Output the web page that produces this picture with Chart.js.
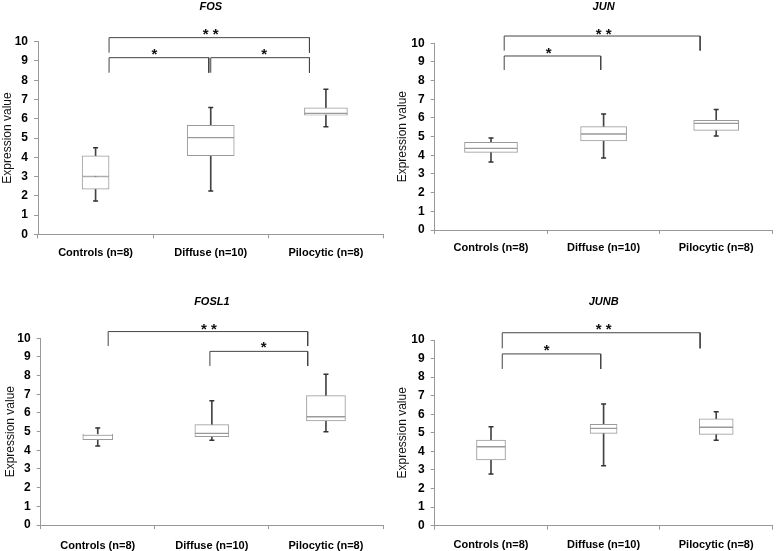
<!DOCTYPE html>
<html>
<head>
<meta charset="utf-8">
<script src="https://cdn.jsdelivr.net/npm/chart.js@4.4.1/dist/chart.umd.min.js"></script>
<style>
  body { margin: 0; background: #fff; }
  #wrap { position: relative; width: 778px; height: 551px; }
  canvas { position: absolute; }
</style>
</head>
<body>
<div id="wrap">
  <canvas id="fosChart" width="389" height="275" style="left:0;top:0"></canvas>
  <canvas id="junChart" width="389" height="275" style="left:389px;top:0"></canvas>
  <canvas id="fosl1Chart" width="389" height="276" style="left:0;top:275px"></canvas>
  <canvas id="junbChart" width="389" height="276" style="left:389px;top:275px"></canvas>
</div>
<script>
const categories = ['Controls (n=8)', 'Diffuse (n=10)', 'Pilocytic (n=8)'];

// FOS
const fosMin = [1.73, 2.25, 5.59];
const fosQ1 = [2.34, 4.08, 6.19];
const fosMedian = [3.0, 5.02, 6.28];
const fosQ3 = [4.07, 5.66, 6.57];
const fosMax = [4.5, 6.59, 7.53];
// brackets: [from, to, bar level, leg end] ; stars: [x, y, text]
const fosBrackets = [[-0.03, 2.0, 10.21, 9.43], [-0.03, 0.98, 9.17, 8.39], [1.0, 2.0, 9.17, 8.39]];
const fosStars = [[1.0, 10.6, '* *'], [0.43, 9.57, '*'], [1.54, 9.57, '*']];

// JUN
const junMin = [3.64, 3.86, 5.04];
const junQ1 = [4.16, 4.77, 5.34];
const junMedian = [4.37, 5.14, 5.71];
const junQ3 = [4.70, 5.54, 5.88];
const junMax = [4.93, 6.21, 6.45];
const junBrackets = [[-0.03, 2.0, 10.39, 9.61], [-0.03, 0.97, 9.32, 8.57]];
const junStars = [[1.0, 10.71, '* *'], [0.43, 9.68, '*']];

// FOSL1
const fosl1Min = [4.23, 4.54, 5.0];
const fosl1Q1 = [4.57, 4.73, 5.57];
const fosl1Median = [4.82, 4.91, 5.80];
const fosl1Q3 = [4.86, 5.38, 6.93];
const fosl1Max = [5.2, 6.66, 8.07];
const fosl1Brackets = [[-0.06, 1.98, 10.36, 9.59], [0.98, 1.98, 9.30, 8.52]];
const fosl1Stars = [[0.97, 10.71, '* *'], [1.53, 9.7, '*']];

// JUNB
const junbMin = [2.78, 3.23, 4.6];
const junbQ1 = [3.54, 4.97, 4.92];
const junbMedian = [4.25, 5.24, 5.30];
const junbQ3 = [4.61, 5.46, 5.75];
const junbMax = [5.33, 6.55, 6.14];
const junbBrackets = [[-0.05, 2.0, 10.39, 9.55], [-0.05, 0.97, 9.25, 8.44]];
const junbStars = [[1.0, 10.81, '* *'], [0.41, 9.64, '*']];

// draws the significance asterisks at data positions
const starPlugin = {
    id: 'sigStars',
    afterDatasetsDraw(chart, args, opts) {
        const ctx = chart.ctx;
        const xs = chart.scales.x2, ys = chart.scales.y;
        ctx.save();
        ctx.font = 'bold 15px Arial';
        ctx.fillStyle = '#111';
        ctx.textAlign = 'center';
        ctx.textBaseline = 'alphabetic';
        opts.items.forEach(s => {
            ctx.fillText(s[2], xs.getPixelForValue(s[0]), ys.getPixelForValue(s[1]) + 15 * 0.57);
        });
        ctx.restore();
    }
};

function makeBoxChart(id, title, mins, q1s, meds, q3s, maxs, brackets, stars, lay) {
    const datasets = [];
    // box halves, one dataset per category so each box keeps its own width
    categories.forEach((c, i) => {
        const lower = categories.map((_, j) => j === i ? [q1s[j], meds[j]] : null);
        const upper = categories.map((_, j) => j === i ? [meds[j], q3s[j]] : null);
        [lower, upper].forEach(d => datasets.push({
            type: 'bar', data: d, order: 2,
            backgroundColor: '#fff', borderColor: '#9a9a9a', borderWidth: 1,
            borderSkipped: false, barThickness: lay.boxWidths[i], grouped: false
        }));
    });
    // whisker stems
    datasets.push({
        type: 'bar', data: categories.map((_, j) => [mins[j], maxs[j]]), order: 3,
        backgroundColor: '#444', borderWidth: 0, barThickness: 1, grouped: false
    });
    // whisker caps
    [mins, maxs].forEach(d => datasets.push({
        type: 'line', data: d, order: 1, showLine: false,
        pointStyle: 'line', pointRadius: 2.5, pointBorderWidth: 1.5, pointBorderColor: '#333'
    }));
    // significance brackets
    brackets.forEach(b => datasets.push({
        type: 'line', xAxisID: 'x2', order: 0, clip: false,
        data: [{x: b[0], y: b[3]}, {x: b[0], y: b[2]}, {x: b[1], y: b[2]}, {x: b[1], y: b[3]}],
        borderColor: '#444', borderWidth: 1, pointRadius: 0, tension: 0
    }));

    return new Chart(document.getElementById(id), {
        type: 'bar',
        data: { labels: categories, datasets: datasets },
        options: {
            responsive: false,
            animation: false,
            layout: { padding: { top: lay.top, right: lay.right, left: 0, bottom: 0 } },
            plugins: {
                legend: { display: false },
                tooltip: { enabled: false },
                title: {
                    display: true, text: title, fullSize: false, color: '#000',
                    font: { family: 'Arial', size: 11, style: 'italic', weight: 'bold' },
                    padding: { top: 0, bottom: lay.titleGap }
                },
                sigStars: { items: stars }
            },
            scales: {
                x: {
                    type: 'category',
                    afterFit: s => { s.height = lay.xHeight; },
                    grid: { offset: true, drawOnChartArea: false, tickLength: 4, color: '#999' },
                    border: { color: '#999' },
                    ticks: { color: '#000', padding: lay.xPad, font: { family: 'Arial', size: 11, weight: 'bold' } }
                },
                x2: { type: 'linear', min: -0.5, max: 2.5, display: false },
                y: {
                    min: 0, max: 10,
                    afterFit: s => { s.width = lay.yWidth; },
                    grid: { drawOnChartArea: false, tickLength: 4, color: '#999' },
                    border: { color: '#999' },
                    ticks: { stepSize: 1, color: '#000', padding: 6, font: { family: 'Arial', size: 12, weight: 'bold' } },
                    title: {
                        display: true, text: 'Expression value', color: '#111',
                        font: { family: 'Arial', size: 12 },
                        padding: { top: lay.yTitlePad, bottom: 0 }
                    }
                }
            }
        },
        plugins: [starPlugin]
    });
}

makeBoxChart('fosChart', 'FOS', fosMin, fosQ1, fosMedian, fosQ3, fosMax, fosBrackets, fosStars,
    { top: 0, titleGap: 28.5, right: 4, xHeight: 40.7, yWidth: 38, xPad: 7.7, yTitlePad: 0.8, boxWidths: [27, 47, 43] });
makeBoxChart('junChart', 'JUN', junMin, junQ1, junMedian, junQ3, junMax, junBrackets, junStars,
    { top: 0, titleGap: 30.1, right: 1, xHeight: 45, yWidth: 45.7, xPad: 7, yTitlePad: 6.1, boxWidths: [53, 46, 45] });
makeBoxChart('fosl1Chart', 'FOSL1', fosl1Min, fosl1Q1, fosl1Median, fosl1Q3, fosl1Max, fosl1Brackets, fosl1Stars,
    { top: 20.1, titleGap: 30, right: 6, xHeight: 26, yWidth: 40.7, xPad: 10, yTitlePad: 3.5, boxWidths: [30, 34, 39] });
makeBoxChart('junbChart', 'JUNB', junbMin, junbQ1, junbMedian, junbQ3, junbMax, junbBrackets, junbStars,
    { top: 20.1, titleGap: 31.7, right: 4, xHeight: 25.3, yWidth: 45.7, xPad: 8.3, yTitlePad: 6.1, boxWidths: [29, 27, 34] });
</script>
</body>
</html>
